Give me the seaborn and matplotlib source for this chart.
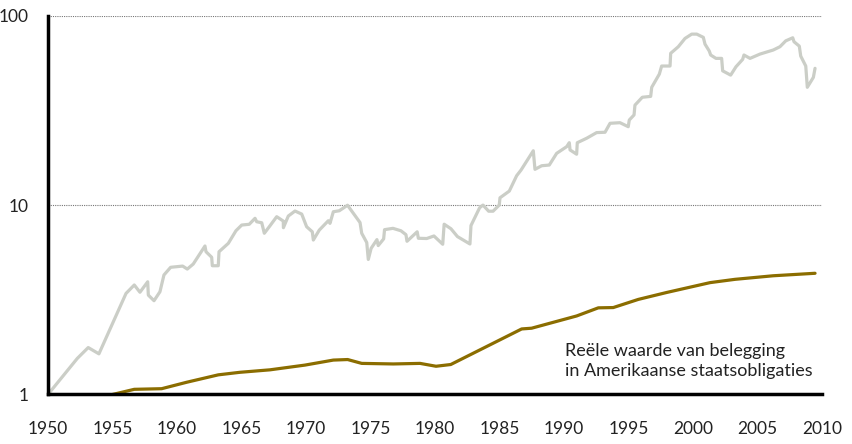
import pandas as pd
import matplotlib
matplotlib.use("Agg")
import matplotlib.pyplot as plt
import seaborn as sns

# grijze lijn (aandelen)
grey_years = [1950.0, 1952.27, 1953.12, 1953.95, 1956.05, 1956.69, 1957.13, 1957.73, 1957.78,
              1958.22, 1958.68, 1958.99, 1959.51, 1960.44, 1960.80, 1961.26, 1962.17, 1962.25,
              1962.69, 1962.74, 1963.20, 1963.26, 1963.98, 1964.57, 1965.02, 1965.60, 1966.05,
              1966.18, 1966.57, 1966.77, 1967.21, 1967.73, 1968.24, 1968.25, 1968.63, 1969.15,
              1969.67, 1970.05, 1970.49, 1970.57, 1971.03, 1971.73, 1971.86, 1972.12, 1972.58,
              1973.22, 1973.67, 1974.19, 1974.32, 1974.71, 1974.83, 1975.05, 1975.50, 1975.60,
              1976.02, 1976.09, 1976.74, 1977.36, 1977.75, 1977.83, 1978.62, 1978.71, 1979.36,
              1979.92, 1980.60, 1980.71, 1981.24, 1981.74, 1982.71, 1982.79, 1983.23, 1983.46,
              1983.72, 1984.16, 1984.50, 1984.98, 1985.04, 1985.76, 1986.33, 1986.67, 1987.62,
              1987.75, 1988.27, 1988.86, 1989.43, 1990.21, 1990.41, 1990.47, 1990.98, 1991.03,
              1991.76, 1992.53, 1993.18, 1993.57, 1994.34, 1994.98, 1995.06, 1995.43, 1995.50,
              1996.07, 1996.72, 1996.80, 1997.39, 1997.57, 1998.22, 1998.27, 1998.86, 1999.38,
              1999.90, 2000.29, 2000.80, 2000.93, 2001.26, 2001.37, 2001.78, 2002.22, 2002.30,
              2002.92, 2003.33, 2003.85, 2003.95, 2004.42, 2005.19, 2006.22, 2006.74, 2007.19,
              2007.73, 2007.83, 2008.24, 2008.35, 2008.74, 2008.86, 2009.33, 2009.46]
grey_values = [1.0, 1.55, 1.77, 1.64, 3.42, 3.79, 3.47, 3.94, 3.35,
               3.13, 3.49, 4.28, 4.70, 4.77, 4.60, 4.89, 6.09, 5.68,
               5.31, 4.79, 4.79, 5.68, 6.29, 7.33, 7.86, 7.93, 8.53,
               8.18, 8.08, 7.11, 7.79, 8.70, 8.25, 7.61, 8.77, 9.32,
               8.98, 7.70, 7.24, 6.55, 7.39, 8.28, 8.02, 9.24, 9.35,
               10.0, 9.06, 8.10, 7.11, 6.35, 5.17, 5.92, 6.58, 6.12,
               6.64, 7.43, 7.55, 7.33, 6.99, 6.45, 7.24, 6.69, 6.67,
               6.88, 6.22, 7.94, 7.51, 6.83, 6.24, 7.81, 9.01, 9.70,
               10.02, 9.30, 9.30, 10.02, 10.95, 11.88, 14.32, 15.34, 19.4,
               15.48, 16.17, 16.31, 18.8, 20.4, 21.4, 19.6, 18.6, 21.4,
               22.6, 24.2, 24.3, 27.1, 27.3, 26.0, 28.2, 30.0, 33.8,
               37.2, 37.6, 42.0, 49.3, 54.4, 54.4, 63.5, 68.8, 76.1,
               80.2, 80.2, 77.1, 71.0, 65.3, 62.2, 59.7, 59.7, 51.3,
               48.7, 53.9, 59.0, 62.2, 59.7, 62.9, 66.1, 68.8, 73.9,
               76.7, 73.1, 69.3, 61.4, 54.4, 42.0, 47.4, 52.9]

# bruine lijn (staatsobligaties)
bond_years = [1955.0, 1956.69, 1958.81, 1960.74, 1963.20, 1964.88, 1967.21, 1969.92, 1972.12,
              1973.23, 1974.32, 1976.77, 1978.84, 1980.08, 1981.22, 1986.72, 1987.49, 1990.98,
              1992.66, 1993.82, 1995.76, 1997.96, 2001.32, 2003.26, 2006.22, 2009.46]
bond_values = [1.0, 1.065, 1.073, 1.16, 1.27, 1.31, 1.35, 1.43, 1.52,
               1.53, 1.46, 1.45, 1.46, 1.41, 1.44, 2.22, 2.24, 2.60,
               2.87, 2.88, 3.18, 3.46, 3.90, 4.06, 4.24, 4.37]

x_ticks = list(range(1950, 2011, 5))
y_ticks = [1, 10, 100]
label_text = "Reële waarde van belegging\nin Amerikaanse staatsobligaties"

sns.set_style("white")
plt.rcParams['font.family'] = ['Lato', 'DejaVu Sans']

grey_df = pd.DataFrame({'jaar': grey_years, 'waarde': grey_values})
bond_df = pd.DataFrame({'jaar': bond_years, 'waarde': bond_values})

fig = plt.figure(figsize=(8.52, 4.44), dpi=100)
ax = fig.add_axes([0.0563, 0.1115, 0.9085, 0.8525])

sns.lineplot(data=grey_df, x='jaar', y='waarde', color='#cbcec7', linewidth=2.3, ax=ax)
sns.lineplot(data=bond_df, x='jaar', y='waarde', color='#8b6d00', linewidth=2.3, ax=ax)

ax.set_yscale('log')
ax.set_xlim(1950, 2010)
ax.set_ylim(1, 100)
ax.set_xticks(x_ticks)
ax.set_xticklabels([str(t) for t in x_ticks])
ax.set_yticks(y_ticks)
ax.set_yticklabels([str(t) for t in y_ticks])
ax.minorticks_off()
ax.set_xlabel('')
ax.set_ylabel('')

for v in [10, 100]:
    ax.axhline(v, color='#777777', linestyle=(0, (1, 1)), linewidth=0.8, zorder=0)

sns.despine(ax=ax, top=True, right=True)
ax.spines['left'].set_linewidth(2.5)
ax.spines['bottom'].set_linewidth(2.5)
ax.spines['left'].set_color('black')
ax.spines['bottom'].set_color('black')

ax.tick_params(axis='x', direction='out', length=13, width=0.9, color='#444444',
               labelsize=12.5, pad=6, labelcolor='#222222')
ax.tick_params(axis='y', length=0, labelsize=12.5, pad=14, labelcolor='#222222')

ax.text(0.668, 0.04, label_text, transform=ax.transAxes, ha='left', va='bottom',
        fontsize=13, color='#222222', linespacing=1.3)

fig.savefig('out.png', dpi=100)
